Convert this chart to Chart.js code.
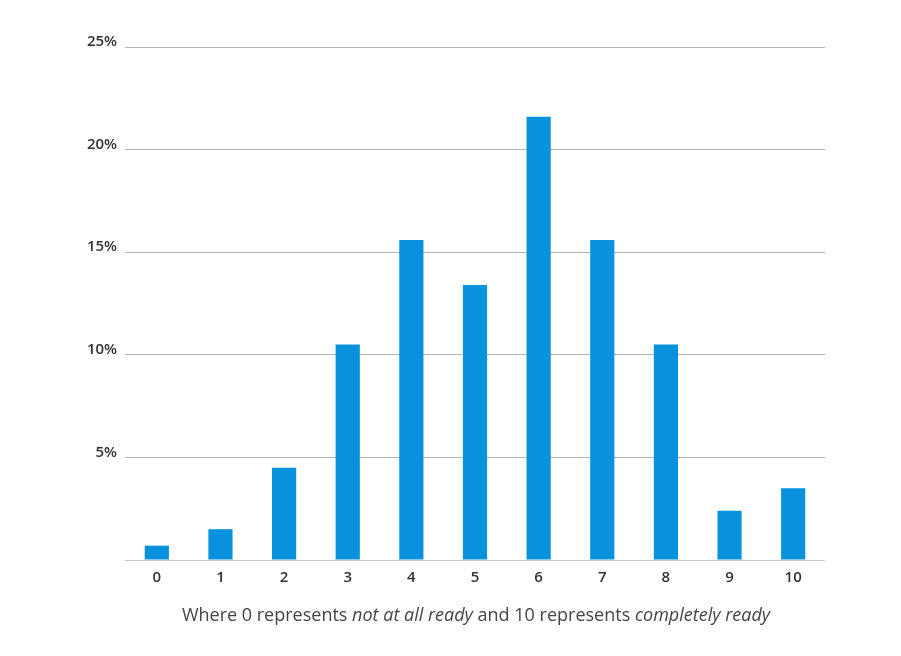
<!DOCTYPE html>
<html>
<head>
<meta charset="utf-8">
<script src="https://cdn.jsdelivr.net/npm/chart.js@4"></script>
<style>
html,body{margin:0;padding:0;background:#fff;}
#wrap{width:901px;height:656px;position:relative;}
</style>
</head>
<body>
<div id="wrap"><canvas id="c" width="901" height="656"></canvas></div>
<script>
const categories = ['0','1','2','3','4','5','6','7','8','9','10'];
const shares = [0.7, 1.5, 4.5, 10.5, 15.6, 13.4, 21.6, 15.6, 10.5, 2.4, 3.5];
const yTicks = [0, 5, 10, 15, 20, 25];
const captionParts = [
  {text: 'Where 0 represents ', italic: false},
  {text: 'not at all ready', italic: true},
  {text: ' and 10 represents ', italic: false},
  {text: 'completely ready', italic: true}
];

const captionPlugin = {
  id: 'caption',
  afterDraw(chart) {
    const ctx = chart.ctx;
    const fam = '"Open Sans", sans-serif';
    const size = 18;
    let total = 0;
    captionParts.forEach(p => {
      ctx.font = (p.italic ? 'italic ' : '') + size + 'px ' + fam;
      total += ctx.measureText(p.text).width;
    });
    const area = chart.chartArea;
    let x = (area.left + area.right) / 2 - total / 2 + 1;
    const y = 616;
    ctx.save();
    ctx.fillStyle = '#444';
    ctx.textBaseline = 'middle';
    ctx.textAlign = 'left';
    captionParts.forEach(p => {
      ctx.font = (p.italic ? 'italic ' : '') + size + 'px ' + fam;
      ctx.fillText(p.text, x, y);
      x += ctx.measureText(p.text).width;
    });
    ctx.restore();
  }
};

new Chart(document.getElementById('c'), {
  type: 'bar',
  data: {
    labels: categories,
    datasets: [{
      data: shares,
      backgroundColor: '#0891dc',
      borderWidth: 0,
      barPercentage: 0.38,
      categoryPercentage: 1.0
    }]
  },
  options: {
    responsive: false,
    animation: false,
    devicePixelRatio: 1,
    layout: {padding: {top: 47, right: 76, bottom: 0, left: 0}},
    plugins: {legend: {display: false}, tooltip: {enabled: false}},
    scales: {
      x: {
        grid: {display: false, drawTicks: false},
        border: {display: false},
        ticks: {
          color: '#333',
          font: {family: '"Open Sans", sans-serif', size: 15, weight: '600'},
          padding: 9
        },
        afterFit(axis) { axis.height = 96; }
      },
      y: {
        min: 0, max: 25,
        afterBuildTicks(axis) { axis.ticks = yTicks.map(v => ({value: v})); },
        grid: {
          drawTicks: false,
          color: ctx => ctx.tick && ctx.tick.value === 0 ? '#c8c8c8' : '#b4b4b4',
          lineWidth: 1
        },
        border: {display: false},
        ticks: {
          color: '#333',
          font: {family: '"Open Sans", sans-serif', size: 15, weight: '600'},
          padding: 8,
          labelOffset: -5,
          callback: v => v === 0 ? '' : v + '%'
        },
        afterFit(axis) { axis.width = 125; }
      }
    }
  },
  plugins: [captionPlugin]
});
</script>
</body>
</html>
